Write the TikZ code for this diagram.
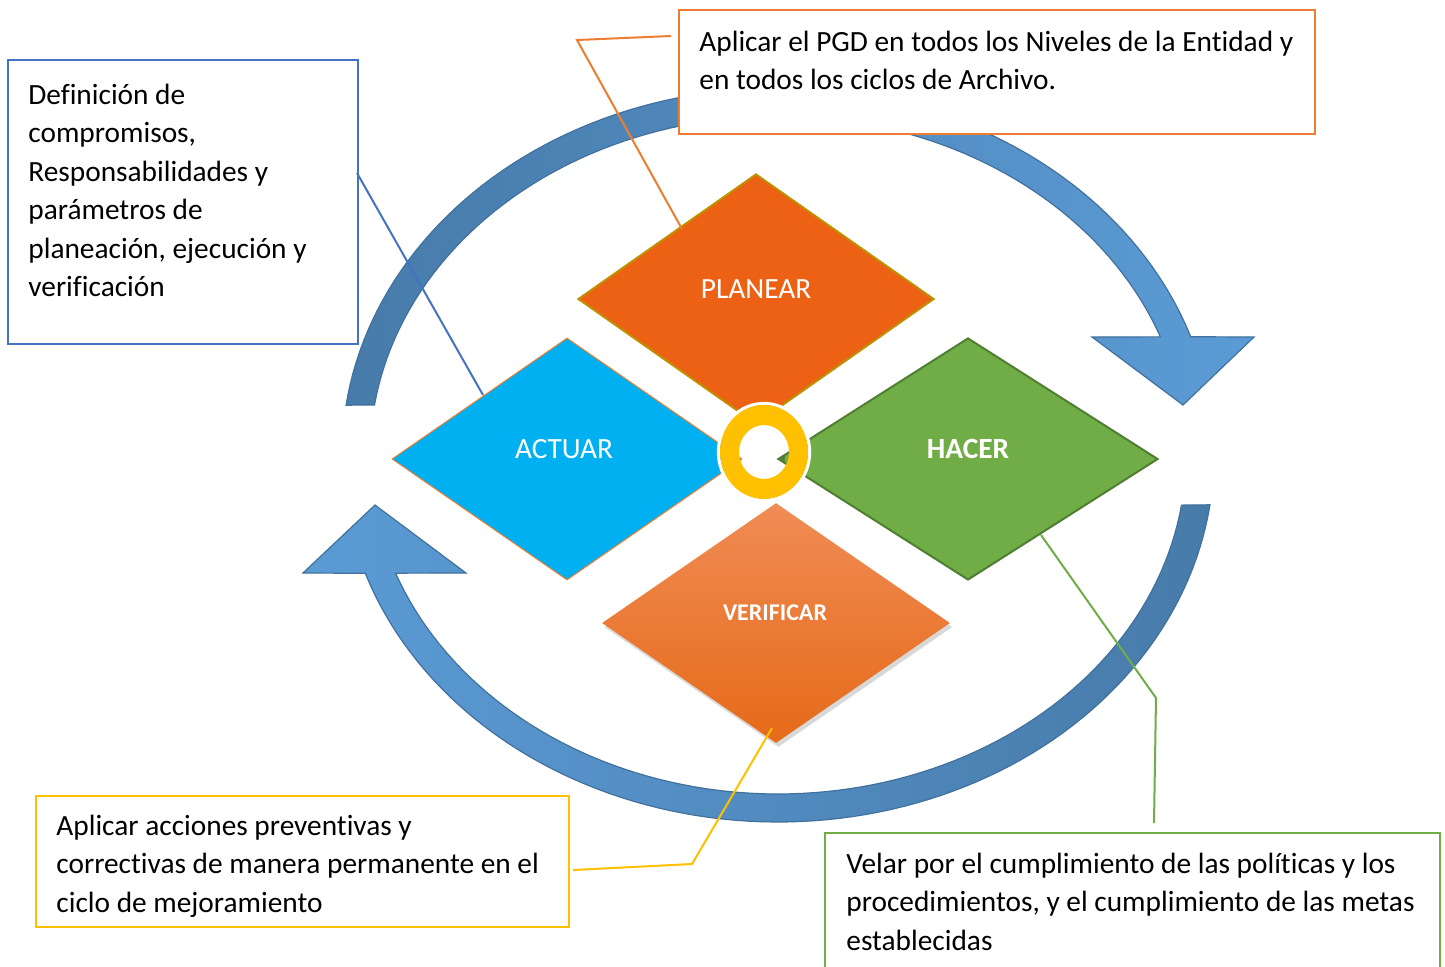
\documentclass[tikz,border=0pt]{standalone}
\usepackage{fontspec}
\setmainfont{Carlito}[Ligatures=NoCommon]
\usetikzlibrary{shapes.geometric,shadows}

\definecolor{arrdark}{HTML}{477BAA}
\definecolor{arrlight}{HTML}{5B9BD5}
\definecolor{arrline}{HTML}{41719C}
\definecolor{planfill}{HTML}{EC6114}
\definecolor{planline}{HTML}{BF9000}
\definecolor{actfill}{HTML}{00B0F0}
\definecolor{oline}{HTML}{ED7D31}
\definecolor{hacfill}{HTML}{70AD47}
\definecolor{hacline}{HTML}{507E32}
\definecolor{vertop}{HTML}{F08C55}
\definecolor{verbot}{HTML}{E66A18}
\definecolor{ringc}{HTML}{FFC000}
\definecolor{bluebox}{HTML}{4472C4}

\begin{document}
\begin{tikzpicture}[x=0.5pt,y=-0.5pt,
  bodytext/.style={anchor=north west, inner sep=0pt, align=flush left, text width=#1,
    font=\fontsize{14.67}{19.25}\selectfont},
  bodytext/.default=300pt,
  infobox/.style={draw=#1, line width=1pt, fill=white, anchor=north west, inner sep=0pt},
  diam/.style={diamond, inner sep=0pt},
  lbl/.style={text=white, inner sep=0pt, font=\fontsize{14.67}{17}\selectfont},
  conn/.style={draw=#1, line width=1pt},
  arrowband/.style={draw=arrline, line width=0.6pt}
]
\useasboundingbox (0,0) rectangle (1445,966);
\clip (0,0) rectangle (1445,966);
\fill[white] (0,0) rectangle (1445,966);

% circular arrows
\path[arrowband, left color=arrdark, right color=arrlight]
  plot[domain=172.2:18.8, samples=90] ({778+436*cos(\x)},{455-367*sin(\x)})
  -- (1254,337) -- (1183,405) -- (1092,337)
  -- plot[domain=20.4:171.5, samples=90] ({778+408*cos(\x)},{455-339*sin(\x)})
  -- cycle;
\path[arrowband, left color=arrlight, right color=arrdark]
  plot[domain=-7.8:-161.2, samples=90] ({778+436*cos(\x)},{455-367*sin(\x)})
  -- (303,573) -- (375,505) -- (466,573)
  -- plot[domain=-159.6:-8.5, samples=90] ({778+408*cos(\x)},{455-339*sin(\x)})
  -- cycle;

% diamonds
\node[diam, fill=planfill, draw=planline, line width=1pt,
  minimum width=178pt, minimum height=125pt] (plan) at (756,299) {};
\node[diam, fill=actfill, draw=oline, line width=0.5pt,
  minimum width=175pt, minimum height=121pt] (act) at (567,459) {};
\node[diam, fill=hacfill, draw=hacline, line width=1pt,
  minimum width=190pt, minimum height=121pt] (hac) at (968,459) {};
\node[diam, top color=vertop, bottom color=verbot,
  drop shadow={opacity=0.3, shadow xshift=1.2pt, shadow yshift=-2pt},
  minimum width=174pt, minimum height=120pt] (ver) at (776,623) {};

\node[lbl] (tplan) at (756,289) {PLANEAR};
\node[lbl] (tact) at (564,449) {ACTUAR};
\node[lbl, font=\fontsize{14.67}{17}\selectfont\bfseries] (thac) at (968,449) {HACER};
\node[lbl, font=\fontsize{12}{14}\selectfont\bfseries] (tver) at (775,613) {VERIFICAR};

% centre ring
\draw[white, line width=1.6pt] (764,452) ellipse [x radius=22.8pt, y radius=24.3pt];
\path[fill=ringc, even odd rule] (764,452) ellipse [x radius=22pt, y radius=23.5pt]
  (764,452) ellipse [x radius=12.5pt, y radius=13.5pt];
\fill[hacline] (777,459) -- (785,454) -- (784.5,462) -- cycle;

% connector points
\coordinate (a1) at (357,173);
\coordinate (a2) at (483,395);
\coordinate (b1) at (671,36);
\coordinate (b2) at (577,40);
\coordinate (b3) at (682,229);
\coordinate (c1) at (573,870);
\coordinate (c2) at (692,864);
\coordinate (c3) at (772,728);
\coordinate (d1) at (1154,823);
\coordinate (d2) at (1156,698);
\coordinate (d3) at (1041,535);

% boxes
\node[infobox=bluebox, minimum width=175pt, minimum height=142pt] (boxA) at (7,59) {};
\node[infobox=oline, minimum width=318pt, minimum height=62pt] (boxB) at (678,9) {};
\node[infobox=ringc, minimum width=266.5pt, minimum height=65.5pt] (boxC) at (35,795) {};
\node[infobox=hacfill, minimum width=307.5pt, minimum height=75pt] (boxD) at (824,832) {};

\draw[conn=bluebox] (a1) -- (a2);
\draw[conn=oline] (b1) -- (b2) -- (b3);
\draw[conn=ringc] (c1) -- (c2) -- (c3);
\draw[conn=hacfill] (d1) -- (d2) -- (d3);

% texts
\node[bodytext=170pt] (txtA) at (28,77) {\strut Definición de\\ compromisos,\\ Responsabilidades y\\ parámetros de\\ planeación, ejecución y\\ verificación};
\node[bodytext=340pt] (txtB) at (699,24) {\strut Aplicar el PGD en todos los Niveles de la Entidad y\\ en todos los ciclos de Archivo.};
\node[bodytext=290pt] (txtC) at (56,808) {\strut Aplicar acciones preventivas y\\ correctivas de manera permanente en el\\ ciclo de mejoramiento};
\node[bodytext=320pt] (txtD) at (846,846) {\strut Velar por el cumplimiento de las políticas y los\\ procedimientos, y el cumplimiento de las metas\\ establecidas};
\end{tikzpicture}
\end{document}
